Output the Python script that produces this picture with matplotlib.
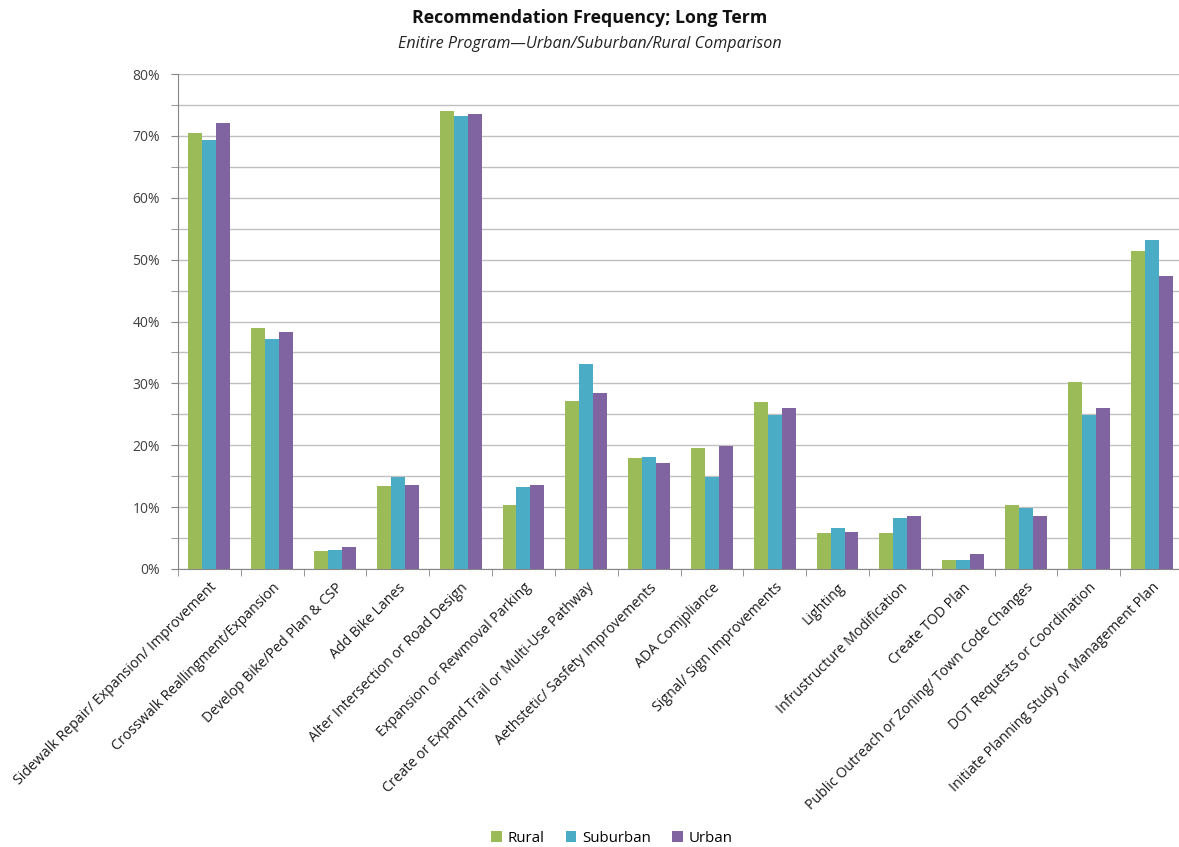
import numpy as np
import matplotlib
matplotlib.use("Agg")
import matplotlib.pyplot as plt
from matplotlib.ticker import MultipleLocator, PercentFormatter, FixedLocator, NullFormatter

plt.rcParams['font.family'] = ['Open Sans', 'DejaVu Sans']

categories = [
    "Sidewalk Repair/ Expansion/ Improvement",
    "Crosswalk Reallingment/Expansion",
    "Develop Bike/Ped Plan & CSP",
    "Add Bike Lanes",
    "Alter Intersection or Road Design",
    "Expansion or Rewmoval Parking",
    "Create or Expand Trail or Multi-Use Pathway",
    "Aethstetic/ Sasfety Improvements",
    "ADA Comjpliance",
    "Signal/ Sign Improvements",
    "Lighting",
    "Infrustructure Modification",
    "Create TOD Plan",
    "Public Outreach or Zoning/ Town Code Changes",
    "DOT Requests or Coordination",
    "Initiate Planning Study or Management Plan",
]

# share of sites with each recommendation, percent
rural = [70.5, 38.9, 2.9, 13.4, 74.1, 10.4, 27.1, 18.0, 19.5, 27.0, 5.8, 5.8, 1.4, 10.4, 30.2, 51.4]
suburban = [69.3, 37.2, 3.1, 14.9, 73.2, 13.2, 33.1, 18.1, 14.9, 24.9, 6.6, 8.2, 1.4, 9.9, 24.9, 53.2]
urban = [72.0, 38.3, 3.6, 13.6, 73.6, 13.6, 28.5, 17.2, 19.8, 26.1, 6.0, 8.6, 2.4, 8.6, 26.1, 47.3]

series = [("Rural", rural, "#9BBB59"),
          ("Suburban", suburban, "#4BACC6"),
          ("Urban", urban, "#8064A2")]

fig = plt.figure(figsize=(11.79, 8.47), dpi=100)
ax = fig.add_axes([178 / 1179, 1 - 569 / 847, 1005 / 1179, (569 - 74) / 847])

x = np.arange(len(categories))
bw = 0.222
for i, (name, vals, col) in enumerate(series):
    ax.bar(x + (i - 1) * bw, vals, width=bw, color=col, label=name, zorder=3)

ax.set_xlim(-0.5, len(categories) - 0.5)
ax.set_ylim(0, 80)
ax.yaxis.set_major_locator(MultipleLocator(10))
ax.yaxis.set_minor_locator(MultipleLocator(5))
ax.yaxis.set_major_formatter(PercentFormatter(decimals=0))
ax.grid(axis='y', which='both', color='#C0C0C0', linewidth=1, zorder=0)

# category labels on centres, tick marks on the boundaries
ax.set_xticks(x)
ax.set_xticklabels(categories, rotation=45, ha='right', rotation_mode='anchor',
                   fontsize=10.2, color='#1a1a1a')
ax.tick_params(axis='x', which='major', length=0, pad=8)
ax.xaxis.set_minor_locator(FixedLocator(np.arange(-0.5, len(categories), 1.0)))
ax.xaxis.set_minor_formatter(NullFormatter())
ax.tick_params(axis='x', which='minor', length=5, color='#868686', direction='out')

ax.tick_params(axis='y', which='both', length=5, color='#868686', direction='out',
               labelsize=10, labelcolor='#404040', pad=8)

for side in ['top', 'right']:
    ax.spines[side].set_visible(False)
for side in ['left', 'bottom']:
    ax.spines[side].set_color('#868686')

fig.text(0.5, 1 - 18 / 847, "Recommendation Frequency; Long Term", ha='center', va='center',
         fontsize=12.8, fontweight='bold', color='#111111')
fig.text(0.5, 1 - 44 / 847, "Enitire Program\u2014Urban/Suburban/Rural Comparison", ha='center',
         va='center', fontsize=11.6, style='italic', color='#222222')

fig.legend(loc='center', bbox_to_anchor=(612 / 1179, 1 - 838 / 847), ncol=3, frameon=False,
           fontsize=10.8, handlelength=0.7, handleheight=0.7, handletextpad=0.4,
           columnspacing=1.4)

fig.savefig("out.png", dpi=100, facecolor='white')
